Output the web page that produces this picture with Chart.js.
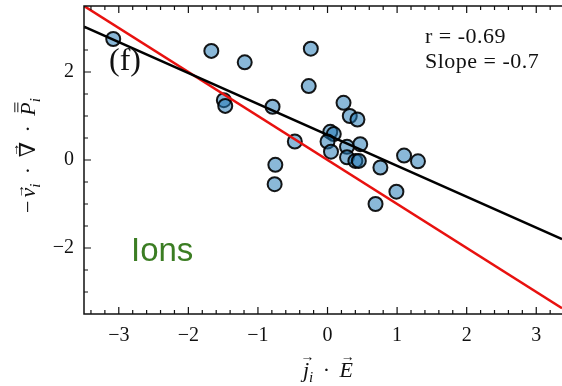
<!DOCTYPE html>
<html><head><meta charset="utf-8">
<script src="https://cdn.jsdelivr.net/npm/chart.js@4/dist/chart.umd.min.js"></script>
<style>html,body{margin:0;padding:0;background:#fff;overflow:hidden}#wrap{width:562px;height:386px;position:relative}</style>
</head><body><div id="wrap"><canvas id="c" width="562" height="386"></canvas></div>
<script>
// ---- data ----
const pointsX = [-3.08, -1.67, -1.19, -0.24, -0.27, -1.49, -1.47, -0.79, -0.47, -0.75, -0.76,
                 0.23, 0.32, 0.43, 0.04, 0.09, 0.00, 0.05, 0.28, 0.47, 0.28, 0.40, 0.45, 0.76,
                 1.10, 1.30, 0.99, 0.69];
const pointsY = [2.75, 2.48, 2.22, 2.53, 1.68, 1.36, 1.23, 1.21, 0.42, -0.11, -0.55,
                 1.30, 1.00, 0.92, 0.64, 0.59, 0.42, 0.19, 0.30, 0.36, 0.06, -0.02, -0.02, -0.17,
                 0.10, -0.03, -0.72, -1.00];
const fitLineX = [-3.5, 3.37];
const fitLineY = [3.03, -1.80];
const refLineX = [-3.5, 3.37];
const refLineY = [3.5, -3.37];
const xTicks = [-3, -2, -1, 0, 1, 2, 3];
const yTicks = [-2, 0, 2];
const statsText = ['r = -0.69', 'Slope = -0.7'];
const panelLabel = '(f)';
const speciesLabel = 'Ions';
// axis titles as math pieces: text, italic, subscript, accent, extra gap
const xTitleParts = [
  {t: 'j', it: true, acc: 'vec'}, {t: 'i', it: true, sub: true},
  {t: ' \u00B7 ', gap: 4}, {t: 'E', it: true, acc: 'vec'}
];
const yTitleParts = [
  {t: '\u2212', gap: 3}, {t: 'v', it: true, acc: 'vec'}, {t: 'i', it: true, sub: true},
  {t: ' \u00B7 ', gap: 4}, {t: '\u2207', acc: 'vec'}, {t: ' \u00B7 ', gap: 4},
  {t: 'P', it: true, acc: 'bar2'}, {t: 'i', it: true, sub: true}
];

const zip = (xs, ys) => xs.map((x, i) => ({x, y: ys[i]}));
const fmt = v => (v < 0 ? '\u2212' + Math.abs(v) : String(v));
const SERIF = '"Liberation Serif", "DejaVu Serif", serif';

function drawMath(ctx, parts, cx, base, size) {
  const fontOf = p => (p.it ? 'italic ' : '') + (p.sub ? Math.round(size * 0.7) : size) + 'px ' + SERIF;
  let total = 0;
  parts.forEach(p => { ctx.font = fontOf(p); p.w = ctx.measureText(p.t).width; total += p.w + 2 * (p.gap || 0); });
  let x = cx - total / 2;
  ctx.textAlign = 'left';
  ctx.textBaseline = 'alphabetic';
  parts.forEach(p => {
    x += p.gap || 0;
    ctx.font = fontOf(p);
    ctx.fillText(p.t, x, base + (p.sub ? size * 0.22 : 0));
    const mid = x + p.w / 2 + (p.it ? size * 0.07 : 0);
    if (p.acc === 'vec') {
      ctx.save();
      ctx.font = Math.round(size * 0.62) + 'px ' + SERIF;
      ctx.textAlign = 'center';
      const top = p.t === 'v' ? base - size * 0.50 : base - size * 0.74;
      ctx.fillText('\u2192', mid, top);
      ctx.restore();
    } else if (p.acc === 'bar2') {
      ctx.save();
      ctx.lineWidth = 1;
      ctx.strokeStyle = ctx.fillStyle;
      const y0 = base - size * 0.78;
      ctx.beginPath();
      ctx.moveTo(mid - size * 0.22, y0); ctx.lineTo(mid + size * 0.22, y0);
      ctx.moveTo(mid - size * 0.22, y0 - 3); ctx.lineTo(mid + size * 0.22, y0 - 3);
      ctx.stroke();
      ctx.restore();
    }
    x += p.w + (p.gap || 0);
  });
}

const decor = {
  id: 'decor',
  afterDraw(chart) {
    const {ctx, chartArea: a, scales: {x, y}} = chart;
    ctx.save();
    ctx.strokeStyle = '#111';
    ctx.lineWidth = 1.5;
    // frame (right side lies beyond the window edge)
    ctx.beginPath();
    ctx.moveTo(a.right + 2, a.top); ctx.lineTo(a.left, a.top);
    ctx.lineTo(a.left, a.bottom); ctx.lineTo(a.right + 2, a.bottom);
    ctx.stroke();
    // inward ticks
    ctx.lineWidth = 1.2;
    ctx.beginPath();
    for (let k = Math.ceil(x.min * 5); k <= Math.floor(x.max * 5); k++) {
      const v = k / 5;
      const len = xTicks.includes(v) ? 7 : 4;
      const px = x.getPixelForValue(v);
      ctx.moveTo(px, a.bottom); ctx.lineTo(px, a.bottom - len);
      ctx.moveTo(px, a.top); ctx.lineTo(px, a.top + len);
    }
    for (let k = Math.ceil(y.min * 2) + 1; k < Math.floor(y.max * 2); k++) {
      const v = k / 2;
      const len = yTicks.includes(v) ? 7 : 4;
      const py = y.getPixelForValue(v);
      ctx.moveTo(a.left, py); ctx.lineTo(a.left + len, py);
    }
    ctx.stroke();
    // axis titles
    ctx.fillStyle = '#111';
    drawMath(ctx, xTitleParts, 328, 377, 22);
    ctx.save();
    ctx.translate(35, 157);
    ctx.rotate(-Math.PI / 2);
    drawMath(ctx, yTitleParts, 0, 0, 22);
    ctx.restore();
    // annotations
    ctx.textAlign = 'left';
    ctx.textBaseline = 'alphabetic';
    ctx.font = '22px ' + SERIF;
    if ('letterSpacing' in ctx) ctx.letterSpacing = '0.5px';
    ctx.fillText(statsText[0], 425, 43);
    ctx.fillText(statsText[1], 425, 68);
    if ('letterSpacing' in ctx) ctx.letterSpacing = '0px';
    ctx.font = '32px ' + SERIF;
    ctx.fillText(panelLabel, 109, 70);
    ctx.fillStyle = '#3b7d23';
    ctx.font = '33px "Liberation Sans", Arial, sans-serif';
    ctx.fillText(speciesLabel, 131, 261);
    ctx.restore();
  }
};

new Chart(document.getElementById('c'), {
  data: {
    datasets: [
      {type: 'line', data: zip(fitLineX, fitLineY), borderColor: '#000', borderWidth: 2.5,
       pointRadius: 0, fill: false, order: 0},
      {type: 'line', data: zip(refLineX, refLineY), borderColor: '#e8110f', borderWidth: 2.5,
       pointRadius: 0, fill: false, order: 0},
      {type: 'scatter', data: zip(pointsX, pointsY), backgroundColor: 'rgba(31,119,180,0.52)',
       borderColor: 'rgba(0,0,0,0.9)', borderWidth: 2, pointRadius: 7, order: 1}
    ]
  },
  options: {
    responsive: false, animation: false,
    layout: {autoPadding: false, padding: {top: 6, right: 0, left: 0, bottom: 0}},
    plugins: {legend: {display: false}, tooltip: {enabled: false}},
    scales: {
      x: {
        type: 'linear', min: -3.5, max: 3.37,
        afterBuildTicks: s => { s.ticks = xTicks.map(v => ({value: v})); },
        afterFit: s => { s.height = 72; s.paddingLeft = 0; s.paddingRight = 0; },
        grid: {display: false, drawTicks: false}, border: {display: false},
        ticks: {font: {family: SERIF, size: 20}, color: '#111', padding: 10, maxRotation: 0,
                autoSkip: false, callback: v => fmt(v)},
        title: {display: false}
      },
      y: {
        type: 'linear', min: -3.5, max: 3.5,
        afterBuildTicks: s => { s.ticks = yTicks.map(v => ({value: v})); },
        afterFit: s => { s.width = 84; s.paddingTop = 0; s.paddingBottom = 0; },
        grid: {display: false, drawTicks: false}, border: {display: false},
        ticks: {font: {family: SERIF, size: 20}, color: '#111', padding: 10,
                autoSkip: false, callback: v => fmt(v)},
        title: {display: false}
      }
    }
  },
  plugins: [decor]
});
</script></body></html>
